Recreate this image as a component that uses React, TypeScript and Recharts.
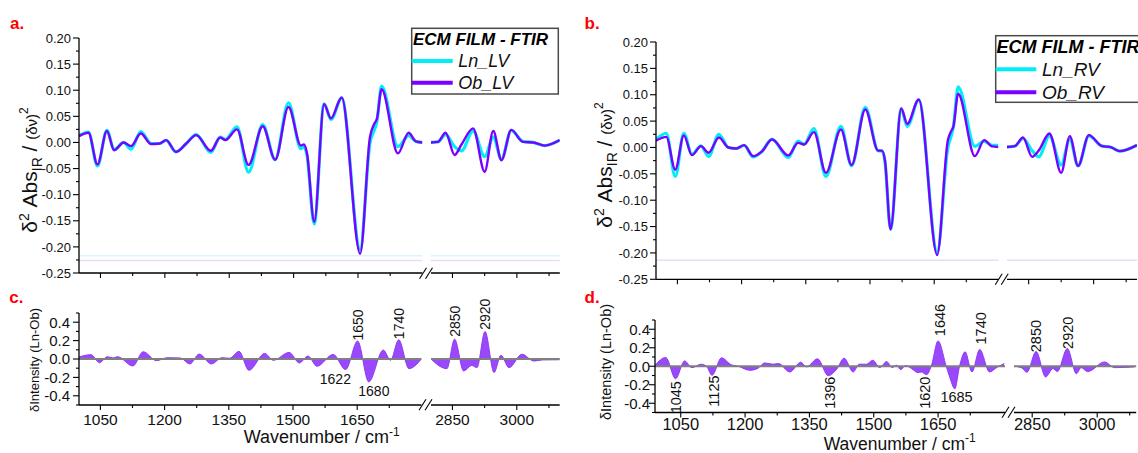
import React from "react";
import { ComposedChart, Line, Area, XAxis, YAxis, ReferenceLine, ReferenceDot } from "recharts";

const FONT = "'Liberation Sans', Arial, sans-serif";
const CYAN = "#00eef6";
const PURPLE = "#7a00ff";
const DIFF = "#9a48fb";

// a. LV second derivative, 1000-1800 cm-1
const aWnL = [1000, 1022, 1043, 1065, 1082, 1104, 1121, 1144, 1168, 1188, 1203, 1226, 1250, 1273, 1307, 1329, 1341, 1368, 1395, 1428, 1457, 1488, 1517, 1524, 1531, 1548, 1571, 1587, 1612, 1655, 1678, 1688, 1694, 1705, 1743, 1768, 1785, 1800];
const aLnL = [0.013, 0.02, -0.045, 0.023, -0.014, 0.0, -0.013, 0.021, -0.002, -0.002, 0.004, -0.018, -0.002, 0.015, -0.019, 0.01, 0.006, 0.03, -0.057, 0.034, -0.033, 0.076, -0.012, -0.008, -0.024, -0.156, 0.074, 0.044, 0.085, -0.205, 0.0, 0.024, 0.04, 0.108, -0.008, 0.013, 0.002, 0.0];
const aObL = [0.012, 0.0185, -0.042, 0.022, -0.015, 0.0, -0.007, 0.017, -0.003, -0.002, 0.0045, -0.018, -0.002, 0.014, -0.016, 0.0096, 0.0045, 0.025, -0.043, 0.031, -0.033, 0.068, -0.006, -0.004, -0.02, -0.152, 0.073, 0.046, 0.086, -0.213, 0.011, 0.036, 0.045, 0.102, -0.021, 0.0185, 0.002, 0.0];
// a. LV, 2800-3100 cm-1
const aWnR = [2800, 2816, 2834, 2855, 2871, 2898, 2925, 2945, 2964, 2987, 3014, 3038, 3065, 3100];
const aLnR = [0.0, 0.001, 0.015, -0.008, -0.016, 0.022, -0.027, 0.01, -0.032, 0.023, 0.002, 0.0, -0.006, 0.0045];
const aObR = [0.0, 0.001, 0.0185, -0.024, -0.004, 0.027, -0.056, 0.022, -0.034, 0.024, 0.001, 0.0, -0.006, 0.0045];

// b. RV second derivative
const bWnL = [1000, 1024, 1045, 1065, 1084, 1105, 1123, 1147, 1169, 1188, 1206, 1227, 1247, 1271, 1309, 1332, 1346, 1369, 1397, 1432, 1457, 1489, 1519, 1528, 1535, 1548, 1573, 1587, 1614, 1657, 1682, 1689, 1695, 1706, 1745, 1767, 1785, 1800];
const bLnL = [0.015, 0.027, -0.055, 0.027, -0.013, 0.003, -0.017, 0.025, 0.0, -0.002, 0.004, -0.018, -0.008, 0.016, -0.019, 0.012, 0.006, 0.036, -0.055, 0.04, -0.035, 0.076, -0.006, -0.007, -0.027, -0.155, 0.073, 0.04, 0.09, -0.198, 0.0, 0.02, 0.04, 0.115, 0.002, 0.012, 0.004, 0.004];
const bObL = [0.0126, 0.02, -0.042, 0.023, -0.0145, 0.0025, -0.01, 0.019, 0.0, -0.002, 0.0044, -0.0165, -0.008, 0.015, -0.015, 0.0088, 0.0057, 0.029, -0.048, 0.034, -0.033, 0.072, -0.006, -0.006, -0.025, -0.155, 0.074, 0.045, 0.091, -0.204, 0.014, 0.03, 0.04, 0.102, -0.0164, 0.014, 0.002, 0.001];
const bWnR = [2800, 2818, 2837, 2858, 2873, 2898, 2925, 2945, 2964, 2989, 3018, 3041, 3060, 3100];
const bLnR = [0.001, 0.0025, 0.017, -0.006, -0.018, 0.022, -0.033, 0.016, -0.035, 0.022, 0.003, 0.0, -0.007, 0.0044];
const bObR = [0.001, 0.0025, 0.019, -0.0177, -0.006, 0.0265, -0.048, 0.0215, -0.035, 0.0234, 0.003, 0.0, -0.007, 0.0044];

// c. difference Ln-Ob (LV)
const cWnL = [1000, 1028, 1048, 1066, 1080, 1090, 1126, 1150, 1181, 1206, 1237, 1259, 1281, 1309, 1334, 1352, 1374, 1397, 1434, 1454, 1491, 1515, 1535, 1556, 1594, 1623, 1651, 1677, 1711, 1728, 1747, 1771, 1800];
const cDL = [0.022, 0.047, -0.04, 0.025, 0.011, 0.025, -0.076, 0.079, -0.018, 0.014, 0.011, -0.054, 0.054, -0.054, 0.014, 0.008, 0.083, -0.123, 0.061, -0.014, 0.072, -0.043, 0.032, -0.079, 0.05, -0.115, 0.195, -0.249, 0.097, -0.014, 0.209, -0.105, 0.0];
const cWnR = [2800, 2837, 2855, 2876, 2895, 2907, 2926, 2947, 2963, 2982, 3012, 3040, 3060, 3100];
const cDR = [0.0, -0.105, 0.216, -0.13, -0.07, -0.094, 0.299, -0.148, 0.04, -0.094, 0.052, -0.022, -0.01, -0.008];

// d. difference Ln-Ob (RV)
const dWnL = [990, 1015, 1038, 1059, 1076, 1098, 1110, 1123, 1145, 1168, 1184, 1211, 1230, 1246, 1265, 1278, 1304, 1330, 1343, 1369, 1394, 1413, 1431, 1452, 1466, 1483, 1498, 1514, 1530, 1543, 1553, 1563, 1574, 1588, 1603, 1611, 1623, 1634, 1650, 1669, 1677, 1689, 1700, 1713, 1729, 1747, 1770, 1786, 1804];
const dDL = [0.011, 0.095, -0.135, 0.058, -0.015, 0.022, 0.0, -0.098, 0.091, 0.015, 0.0, -0.044, -0.022, 0.036, 0.022, 0.029, -0.062, 0.044, -0.007, 0.08, -0.102, -0.036, 0.087, -0.062, 0.022, 0.022, 0.065, -0.015, 0.051, -0.015, 0.011, -0.036, 0.007, -0.025, -0.069, -0.062, -0.091, 0.0, 0.273, 0.0, -0.116, -0.244, 0.0, 0.156, -0.062, 0.182, -0.062, -0.015, 0.029];
const dWnR = [2808, 2825, 2838, 2859, 2881, 2898, 2908, 2931, 2952, 2963, 2978, 3017, 3040, 3086];
const dDR = [0.0, -0.015, -0.065, 0.16, -0.116, -0.025, -0.058, 0.193, -0.08, -0.015, -0.058, 0.047, -0.015, -0.007];

const lowTicks = [1050, 1200, 1350, 1500, 1650];
const lowMinor = [1125, 1275, 1425, 1575, 1725];
const highTicks = [2850, 3000];
const highMinor = [2925, 3075];
const specTicks = [-0.25, -0.2, -0.15, -0.1, -0.05, 0, 0.05, 0.1, 0.15, 0.2];
const specMinor = [-0.225, -0.175, -0.125, -0.075, -0.025, 0.025, 0.075, 0.125, 0.175];
const diffTicks = [-0.4, -0.2, 0, 0.2, 0.4];
const diffMinor = [-0.5, -0.3, -0.1, 0.1, 0.3, 0.5];

type Ann = { wn: number; v: number; text: string; rot?: boolean };
const cPeaksL: Ann[] = [
  { wn: 1652, v: 0.37, text: "1650", rot: true },
  { wn: 1747, v: 0.385, text: "1740", rot: true },
  { wn: 1599, v: -0.213, text: "1622" },
  { wn: 1689, v: -0.351, text: "1680" },
];
const cPeaksR: Ann[] = [
  { wn: 2856, v: 0.41, text: "2850", rot: true },
  { wn: 2926, v: 0.486, text: "2920", rot: true },
];
const dPeaksL: Ann[] = [
  { wn: 1040, v: -0.335, text: "1045", rot: true },
  { wn: 1127, v: -0.268, text: "1125", rot: true },
  { wn: 1399, v: -0.286, text: "1396", rot: true },
  { wn: 1619, v: -0.286, text: "1620", rot: true },
  { wn: 1693, v: -0.332, text: "1685" },
  { wn: 1654, v: 0.5, text: "1646", rot: true },
  { wn: 1750, v: 0.41, text: "1740", rot: true },
];
const dPeaksR: Ann[] = [
  { wn: 2859, v: 0.326, text: "2850", rot: true },
  { wn: 2932, v: 0.362, text: "2920", rot: true },
];

const specRows = (wn: number[], ln: number[], ob: number[]) => wn.map((w, i) => ({ wn: w, ln: ln[i], ob: ob[i] }));
const diffRows = (wn: number[], d: number[]) => wn.map((w, i) => ({ wn: w, d: d[i] }));
const has = (arr: number[], v: number) => arr.some((a) => Math.abs(a - v) < 1e-6);

type Seg = {
  left: number; top: number; w: number; h: number;
  xDom: [number, number]; yDom: [number, number];
  xMaj: number[]; xMin: number[];
  yMaj?: number[]; yMin?: number[]; yDec?: number; yFs?: number; yGap?: number;
  xFs?: number; xOff?: number;
  rows: any[]; kind: "spec" | "diff";
  faint?: { v: number; c: string }[];
  ann?: Ann[]; annFs?: number;
};

function Segment({ s }: { s: Seg }) {
  const yw = s.yMaj ? 70 : 0;
  const mt = 22, mb = 45, mr = 2;
  const xTick = (p: any) => {
    const v = p.payload.value;
    const big = has(s.xMaj, v);
    return (
      <g>
        <line x1={p.x} x2={p.x} y1={p.y} y2={p.y + (big ? 5 : 3)} stroke="#000" strokeWidth={1.1} />
        {big && s.xFs ? (
          <text x={p.x} y={p.y + (s.xOff || 0)} textAnchor="middle" fontSize={s.xFs} fontFamily={FONT} fill="#111">{v}</text>
        ) : null}
      </g>
    );
  };
  const yTick = (p: any) => {
    const v = p.payload.value;
    const big = has(s.yMaj || [], v);
    const fs = s.yFs || 13;
    return (
      <g>
        <line x1={p.x - (big ? 6 : 3)} x2={p.x} y1={p.y} y2={p.y} stroke="#000" strokeWidth={1.1} />
        {big ? (
          <text x={p.x - (s.yGap || 8)} y={p.y + fs * 0.36} textAnchor="end" fontSize={fs} fontFamily={FONT} fill="#111">{v.toFixed(s.yDec || 2)}</text>
        ) : null}
      </g>
    );
  };
  return (
    <div style={{ position: "absolute", left: s.left - yw, top: s.top - mt }}>
      <ComposedChart width={yw + s.w + mr} height={mt + s.h + mb} data={s.rows} margin={{ top: mt, right: mr, bottom: 0, left: 0 }} style={{ overflow: "visible" }}>
        <XAxis dataKey="wn" type="number" domain={s.xDom} allowDataOverflow ticks={[...s.xMaj, ...s.xMin]} interval={0} height={mb} tickSize={0} tickMargin={0} tickLine={false} axisLine={{ stroke: "#000", strokeWidth: 1.3 }} tick={xTick} />
        <YAxis type="number" domain={s.yDom} allowDataOverflow hide={!s.yMaj} width={yw} ticks={[...(s.yMaj || []), ...(s.yMin || [])]} interval={0} tickSize={0} tickMargin={0} tickLine={false} axisLine={{ stroke: "#000", strokeWidth: 1.3 }} tick={yTick} />
        {(s.faint || []).map((f, i) => (
          <ReferenceLine key={"f" + i} y={f.v} stroke={f.c} strokeWidth={1.5} />
        ))}
        {s.kind === "spec" ? (
          <Line dataKey="ln" type="monotone" stroke={CYAN} strokeWidth={3.2} dot={false} isAnimationActive={false} />
        ) : null}
        {s.kind === "spec" ? (
          <Line dataKey="ob" type="monotone" stroke={PURPLE} strokeWidth={2.4} dot={false} isAnimationActive={false} />
        ) : null}
        {s.kind === "diff" ? (
          <Area dataKey="d" type="monotone" baseValue={0} fill={DIFF} fillOpacity={1} stroke="#8d3bf0" strokeWidth={1} isAnimationActive={false} />
        ) : null}
        {s.kind === "diff" ? <ReferenceLine y={0} stroke="#808080" strokeWidth={2} /> : null}
        {(s.ann || []).map((a, i) => (
          <ReferenceDot
            key={"a" + i}
            x={a.wn}
            y={a.v}
            r={1}
            ifOverflow="visible"
            shape={(p: any) => (
              <text
                x={p.cx}
                y={p.cy}
                transform={a.rot ? `rotate(-90 ${p.cx} ${p.cy})` : undefined}
                textAnchor="middle"
                dominantBaseline="central"
                fontSize={s.annFs || 14}
                fontFamily={FONT}
                fill="#111"
              >
                {a.text}
              </text>
            )}
          />
        ))}
      </ComposedChart>
    </div>
  );
}

const Brk = ({ x, y }: { x: number; y: number }) => (
  <g stroke="#000" strokeWidth={1.1}>
    <line x1={x - 7.5} y1={y + 5.5} x2={x - 0.5} y2={y - 5.5} />
    <line x1={x - 1.5} y1={y + 5.5} x2={x + 5.5} y2={y - 5.5} />
  </g>
);

export default function App() {
  const segs: Seg[] = [
    { left: 79.3, top: 38.3, w: 343.4, h: 235, xDom: [1000, 1800], yDom: [-0.25, 0.2], xMaj: lowTicks, xMin: lowMinor, yMaj: specTicks, yMin: specMinor, yDec: 2, yFs: 13, yGap: 8, rows: specRows(aWnL, aLnL, aObL), kind: "spec", faint: [{ v: -0.217, c: "#d2f8fb" }, { v: -0.226, c: "#e8dafb" }] },
    { left: 431.3, top: 38.3, w: 128.8, h: 235, xDom: [2800, 3100], yDom: [-0.25, 0.2], xMaj: highTicks, xMin: highMinor, rows: specRows(aWnR, aLnR, aObR), kind: "spec", faint: [{ v: -0.217, c: "#d2f8fb" }, { v: -0.226, c: "#e8dafb" }] },
    { left: 656, top: 42, w: 342.4, h: 237.3, xDom: [1000, 1800], yDom: [-0.25, 0.2], xMaj: lowTicks, xMin: lowMinor, yMaj: specTicks, yMin: specMinor, yDec: 2, yFs: 13, yGap: 8, rows: specRows(bWnL, bLnL, bObL), kind: "spec", faint: [{ v: -0.214, c: "#e6dcfb" }] },
    { left: 1007, top: 42, w: 130, h: 237.3, xDom: [2800, 3100], yDom: [-0.25, 0.2], xMaj: highTicks, xMin: highMinor, rows: specRows(bWnR, bLnR, bObR), kind: "spec", faint: [{ v: -0.214, c: "#e6dcfb" }] },
    { left: 78.5, top: 312.7, w: 342.4, h: 92, xDom: [1000, 1800], yDom: [-0.5, 0.5], xMaj: lowTicks, xMin: lowMinor, yMaj: diffTicks, yMin: diffMinor, yDec: 1, yFs: 15, yGap: 9, xFs: 15.5, xOff: 20.5, rows: diffRows(cWnL, cDL), kind: "diff", ann: cPeaksL, annFs: 14 },
    { left: 431, top: 312.7, w: 128.7, h: 92, xDom: [2800, 3100], yDom: [-0.5, 0.5], xMaj: highTicks, xMin: highMinor, xFs: 15.5, xOff: 20.5, rows: diffRows(cWnR, cDR), kind: "diff", ann: cPeaksR, annFs: 14 },
    { left: 655, top: 319.75, w: 350, h: 92.5, xDom: [990, 1806], yDom: [-0.5, 0.5], xMaj: lowTicks, xMin: lowMinor, yMaj: diffTicks, yMin: diffMinor, yDec: 1, yFs: 15, yGap: 5, xFs: 16.5, xOff: 17.5, rows: diffRows(dWnL, dDL), kind: "diff", ann: dPeaksL, annFs: 14.5 },
    { left: 1014, top: 319.75, w: 122.2, h: 92.5, xDom: [2808, 3090], yDom: [-0.5, 0.5], xMaj: highTicks, xMin: highMinor, xFs: 16.5, xOff: 17.5, rows: diffRows(dWnR, dDR), kind: "diff", ann: dPeaksR, annFs: 14.5 },
  ];

  const red = { fill: "#ff0000", fontWeight: 700, fontSize: 17, fontFamily: FONT } as const;

  return (
    <div style={{ position: "absolute", left: 0, top: 0, width: 1138, height: 453, overflow: "hidden", background: "#fff", fontFamily: FONT }}>
      {segs.map((s, i) => (
        <Segment key={i} s={s} />
      ))}
      <svg width={1138} height={453} style={{ position: "absolute", left: 0, top: 0, pointerEvents: "none" }} fontFamily={FONT}>
        <text x={10} y={28.7} {...red}>a.</text>
        <text x={584.6} y={28.7} {...red}>b.</text>
        <text x={9.3} y={302.7} {...red}>c.</text>
        <text x={584.6} y={302.7} {...red}>d.</text>

        {/* y titles, top row */}
        {[{ x: 37, y: 170 }, { x: 612, y: 165 }].map((p, i) => (
          <text key={i} transform={`translate(${p.x},${p.y}) rotate(-90)`} textAnchor="middle" fontSize={21} fill="#111">
            <tspan>δ</tspan>
            <tspan dy={-8} fontSize={14}>2</tspan>
            <tspan dy={8}> Abs</tspan>
            <tspan dy={5} fontSize={14}>IR</tspan>
            <tspan dy={-5}> / </tspan>
            <tspan fontSize={15}>(δν)</tspan>
            <tspan dy={-9} fontSize={12}>2</tspan>
          </text>
        ))}

        {/* y titles, bottom row */}
        <text transform="translate(39,360) rotate(-90)" textAnchor="middle" fontSize={13} fill="#111">δIntensity (Ln-Ob)</text>
        <text transform="translate(611,362) rotate(-90)" textAnchor="middle" fontSize={14.5} fill="#111">δIntensity (Ln-Ob)</text>

        {/* x titles */}
        <text x={321.7} y={442.5} textAnchor="middle" fontSize={18} fill="#111">
          Wavenumber / cm<tspan dy={-7} fontSize={12}>-1</tspan>
        </text>
        <text x={899.7} y={449.5} textAnchor="middle" fontSize={17.5} fill="#111">
          Wavenumber / cm<tspan dy={-7.5} fontSize={12}>-1</tspan>
        </text>

        {/* axis breaks */}
        <Brk x={427} y={273.3} />
        <Brk x={1002.7} y={279.3} />
        <Brk x={426.5} y={404.7} />
        <Brk x={1009.5} y={412.25} />

        {/* legend a */}
        <rect x={411.7} y={28.3} width={146.6} height={65.7} fill="#fff" stroke="#4a4a4a" strokeWidth={1.5} />
        <text x={413} y={45.4} fontSize={17} fontWeight={700} fontStyle="italic" fill="#000">ECM FILM - FTIR</text>
        <line x1={411.7} x2={452.7} y1={61} y2={61} stroke={CYAN} strokeWidth={4} />
        <line x1={411.7} x2={452.7} y1={82.7} y2={82.7} stroke={PURPLE} strokeWidth={4} />
        <text x={458.3} y={67.4} fontSize={18} fontStyle="italic" fill="#111">Ln_LV</text>
        <text x={458.3} y={89.1} fontSize={18} fontStyle="italic" fill="#111">Ob_LV</text>

        {/* legend b */}
        <rect x={995.7} y={35.7} width={170} height={66.6} fill="#fff" stroke="#4a4a4a" strokeWidth={1.5} />
        <text x={996.5} y={53.2} fontSize={18} fontWeight={700} fontStyle="italic" fill="#000">ECM FILM - FTIR</text>
        <line x1={995.7} x2={1036.3} y1={69.3} y2={69.3} stroke={CYAN} strokeWidth={4} />
        <line x1={995.7} x2={1036.3} y1={92.3} y2={92.3} stroke={PURPLE} strokeWidth={4} />
        <text x={1042} y={76.1} fontSize={19} fontStyle="italic" fill="#111">Ln_RV</text>
        <text x={1042} y={99.1} fontSize={19} fontStyle="italic" fill="#111">Ob_RV</text>
      </svg>
    </div>
  );
}
